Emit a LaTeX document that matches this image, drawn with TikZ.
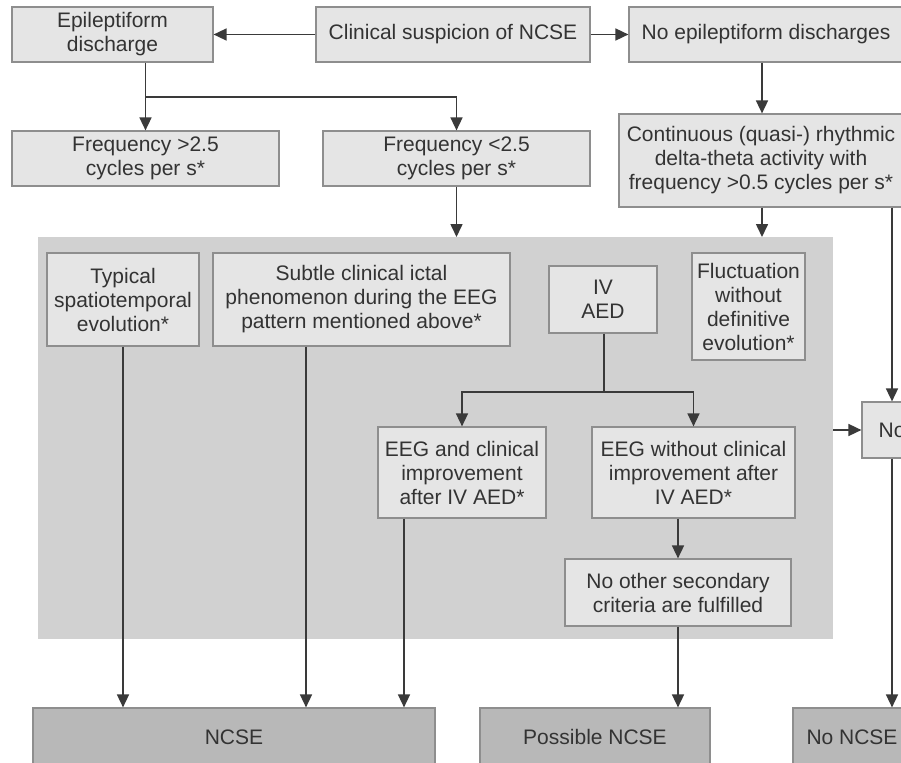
\documentclass[tikz,border=0pt]{standalone}
\usepackage{fontspec}
\setmainfont{Liberation Sans}
\usetikzlibrary{arrows.meta}
\definecolor{boxfill}{HTML}{E5E5E5}
\definecolor{boxline}{HTML}{8E8E8E}
\definecolor{panel}{HTML}{D1D1D1}
\definecolor{outfill}{HTML}{B8B8B8}
\definecolor{inkgray}{HTML}{3A3A3A}
\definecolor{txt}{HTML}{333333}
\begin{document}
\begin{tikzpicture}[x=1pt,y=-1pt,
  box/.style={draw=boxline, fill=boxfill, line width=1.2pt, align=center,
    inner sep=0pt, text=txt, font=\fontsize{21}{24}\selectfont},
  outbox/.style={box, fill=outfill, draw=boxline},
  arr/.style={draw=inkgray, line width=1.6pt, -{Triangle[length=13pt,width=12pt]}},
  ln/.style={draw=inkgray, line width=1.6pt}]
\useasboundingbox (0,0) rectangle (901,762);
\fill[white] (0,0) rectangle (901,762);

% shaded panel of secondary criteria
\fill[panel] (38,237) rectangle (833,639);

% top row
\node[box, minimum width=201, minimum height=55] (epi) at (112.5,34.5) {Epileptiform\\discharge};
\node[box, minimum width=274, minimum height=55] (clin) at (453,34.5) {Clinical suspicion of NCSE};
\node[box, minimum width=274, minimum height=55] (noepi) at (766,34.5) {No epileptiform discharges};

% frequency row
\node[box, minimum width=267, minimum height=55] (fgt) at (145.5,158.5) {Frequency >2.5\\cycles per s*};
\node[box, minimum width=267, minimum height=55] (flt) at (456.5,158.5) {Frequency <2.5\\cycles per s*};
\node[box, minimum width=284, minimum height=93] (cont) at (761,160.5) {Continuous (quasi-) rhythmic\\delta-theta activity with\\frequency >0.5 cycles per s*};

% secondary criteria
\node[box, minimum width=152, minimum height=93] (typ) at (123,299.5) {Typical\\spatiotemporal\\evolution*};
\node[box, minimum width=297, minimum height=93] (sub) at (361.5,299.5) {Subtle clinical ictal\\phenomenon during the EEG\\pattern mentioned above*};
\node[box, minimum width=108, minimum height=67] (iv) at (603,299.5) {IV\\AED};
\node[box, minimum width=113, minimum height=107] (fluc) at (748.5,306.5) {Fluctuation\\without\\definitive\\evolution*};
\node[box, minimum width=168, minimum height=91] (eegc) at (462,472.5) {EEG and clinical\\improvement\\after IV AED*};
\node[box, minimum width=203, minimum height=91] (eegw) at (693.5,472.5) {EEG without clinical\\improvement after\\IV AED*};
\node[box, minimum width=226, minimum height=67] (other) at (678,592.5) {No other secondary\\criteria are fulfilled};
\node[box, minimum width=60, minimum height=56] (no) at (892,430) {No};

% outcomes
\node[outbox, minimum width=402, minimum height=58] (ncse) at (234,737) {NCSE};
\node[outbox, minimum width=230, minimum height=58] (poss) at (595,737) {Possible NCSE};
\node[outbox, minimum width=118, minimum height=58] (nonc) at (852,737) {No NCSE};

% helper points
\coordinate (split) at (145.5,97);
\coordinate (ptop) at (0,237);
\coordinate (ivsplit) at (604,392);
\coordinate (pright) at (833,430);

% connectors
\draw[arr] (clin) -- (epi);
\draw[arr] (clin) -- (noepi);
\draw[arr] (epi.south -| fgt.north) -- (fgt.north);
\draw[arr] (split) -| (flt.north);
\draw[arr] (noepi.south -| 762,0) -- (cont.north -| 762,0);
\draw[arr] (flt.south) -- (flt.south |- ptop);
\draw[arr] (cont.south -| 762,0) -- (ptop -| 762,0);
\draw[arr] (cont.south -| no.north) -- (no.north);
\draw[ln] (iv.south -| ivsplit) -- (ivsplit);
\draw[arr] (ivsplit) -| (eegc.north);
\draw[arr] (ivsplit) -| (eegw.north);
\draw[arr] (pright) -- (no.west);
\draw[arr] (typ.south) -- (typ.south |- ncse.north);
\draw[arr] (sub.south -| 306,0) -- (ncse.north -| 306,0);
\draw[arr] (eegc.south -| 404,0) -- (ncse.north -| 404,0);
\draw[arr] (eegw.south -| other.north) -- (other.north);
\draw[arr] (other.south) -- (other.south |- poss.north);
\draw[arr] (no.south) -- (no.south |- nonc.north);
\end{tikzpicture}
\end{document}
